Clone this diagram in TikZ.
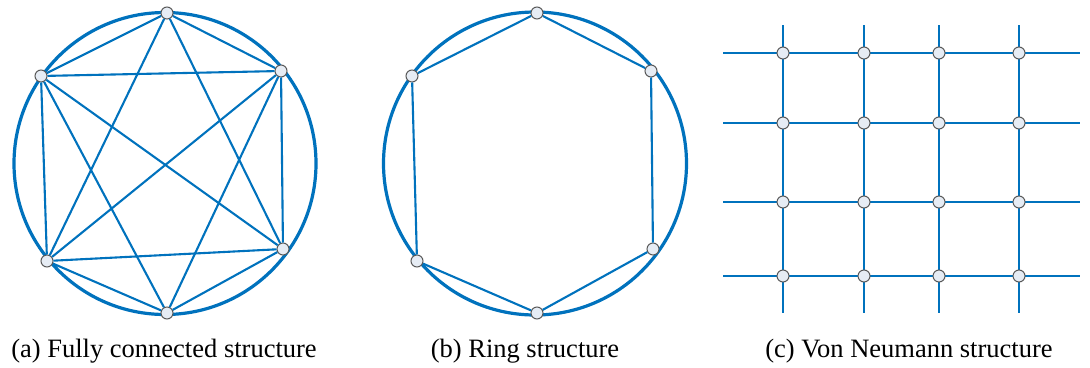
\documentclass[tikz,border=0pt]{standalone}
\usepackage{fontspec}
\setmainfont{Liberation Serif}
\definecolor{linkblue}{RGB}{0,114,189}
\definecolor{nodefill}{RGB}{230,236,244}
\definecolor{nodegray}{RGB}{90,90,90}
\tikzstyle{vtx}=[circle, draw=nodegray, fill=nodefill, line width=1pt, inner sep=0pt, minimum size=12pt]
\tikzstyle{link}=[draw=linkblue, line width=2.1pt]
\tikzstyle{ring}=[draw=linkblue, line width=3.2pt]
\tikzstyle{captext}=[anchor=base, font=\fontsize{26.5}{30}\selectfont]

\begin{document}
\begin{tikzpicture}[x=1pt, y=-1pt]
        \useasboundingbox (0,0) rectangle (1090,367);
        % (a) fully connected
        \draw[ring] (165,163.5) circle (151);
        \foreach \n/\x/\y in {1/167/13, 2/281/71, 3/283/249, 4/167/313, 5/47/261, 6/41/76}
            \node[vtx] (a\n) at (\x,\y) {};
        \foreach \u/\v in {1/2, 1/3, 1/5, 1/6, 2/3, 2/4, 2/5, 2/6, 3/4, 3/5, 3/6, 4/5, 4/6, 5/6}
            \draw[link] (a\u) -- (a\v);
        % (b) ring
        \draw[ring] (535,163.5) circle (151.5);
        \foreach \n/\x/\y in {1/537/13, 2/651/71, 3/653/249, 4/537/313, 5/417/261, 6/412/76}
            \node[vtx] (b\n) at (\x,\y) {};
        \foreach \u/\v in {1/2, 2/3, 3/4, 4/5, 5/6, 6/1}
            \draw[link] (b\u) -- (b\v);
        % (c) von Neumann grid
        \foreach \i/\y in {1/53, 2/123, 3/202, 4/276} {
            \coordinate (w\i) at (723,\y);
            \coordinate (e\i) at (1080,\y);
            \draw[link, line width=2.6pt] (w\i) -- (e\i);
        }
        \foreach \j/\x in {1/783, 2/864, 3/939, 4/1019} {
            \coordinate (n\j) at (\x,25);
            \coordinate (s\j) at (\x,313);
            \draw[link, line width=2.6pt] (n\j) -- (s\j);
        }
        \foreach \i/\y in {1/53, 2/123, 3/202, 4/276}
            \foreach \j/\x in {1/783, 2/864, 3/939, 4/1019}
                \node[vtx] (c\i\j) at (\x,\y) {};
        % captions
        \node[captext] (capa) at (164,357) {(a) Fully connected structure};
        \node[captext] (capb) at (525,357) {(b) Ring structure};
        \node[captext] (capc) at (909,357) {(c) Von Neumann structure};
    \end{tikzpicture}
\end{document}
